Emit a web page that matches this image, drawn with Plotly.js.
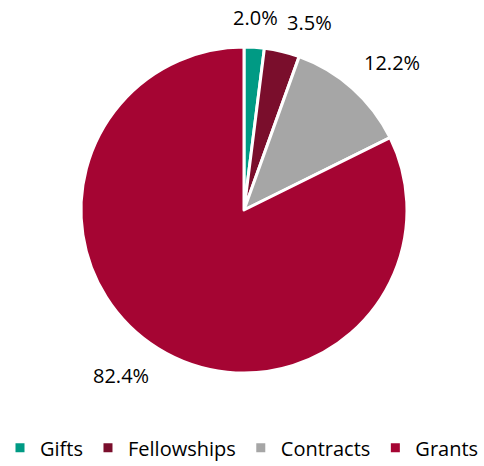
<!DOCTYPE html>
<html><head><meta charset="utf-8">
<script src="https://cdn.plot.ly/plotly-3.0.1.min.js"></script>
<style>html,body{margin:0;padding:0;background:#fff}</style>
</head><body>
<div id="chart" style="width:484px;height:466px"></div>
<script>
const categories = ["Gifts", "Fellowships", "Contracts", "Grants"];
const shares = [2.0, 3.5, 12.2, 82.4];
const colors = ["#009A84", "#7A0E2C", "#A6A6A6", "#A50533"];

const W = 484, H = 466;
const margin = {l: 4, r: 0, t: 47, b: 93, autoexpand: false};
const plotW = W - margin.l - margin.r, plotH = H - margin.t - margin.b;
const radius = Math.min(plotW, plotH) / 2;
const gap = 14;

// label annotations placed at slice mid-angles (clockwise from 12 o'clock)
const total = shares.reduce((a, b) => a + b, 0);
let cum = 0;
const annotations = shares.map(v => {
  const mid = (cum + v / 2) / total * 2 * Math.PI;
  cum += v;
  const s = Math.sin(mid), c = Math.cos(mid);
  const rr = radius + gap;
  return {
    x: 0.5 + (s * rr) / plotW, y: 0.5 + (c * rr) / plotH,
    xref: "paper", yref: "paper",
    text: v.toFixed(1) + "%", showarrow: false,
    xanchor: s > 0.15 ? "left" : (s < -0.15 ? "right" : "center"),
    yanchor: c > 0 ? "bottom" : "top",
    font: {family: "Open Sans", size: 20, color: "#000"}
  };
});

const trace = {
  type: "pie",
  labels: categories,
  values: shares,
  sort: false,
  direction: "clockwise",
  rotation: 0,
  marker: {colors: colors, line: {color: "#ffffff", width: 3}},
  textinfo: "none",
  hoverinfo: "none",
  domain: {x: [0, 1], y: [0, 1]}
};
const layout = {
  width: W, height: H,
  margin: margin,
  showlegend: true,
  annotations: annotations,
  legend: {orientation: "h", x: 0.5, xanchor: "center", xref: "container",
           y: 0.039, yanchor: "middle", yref: "container",
           font: {family: "Open Sans", size: 20, color: "#000"}, traceorder: "normal"},
  paper_bgcolor: "#fff", plot_bgcolor: "#fff"
};
Plotly.newPlot("chart", [trace], layout, {displayModeBar: false, staticPlot: true});
</script>
</body></html>
